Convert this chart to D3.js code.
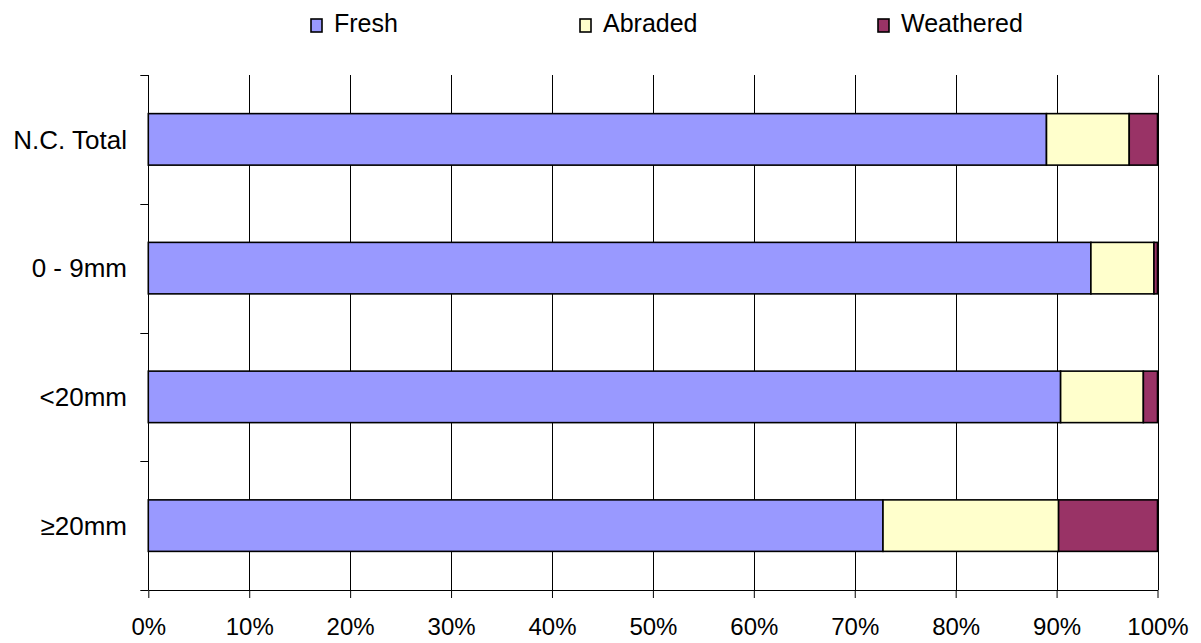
<!DOCTYPE html>
<html>
<head>
<script src="https://d3js.org/d3.v7.min.js"></script>
<style>
  body { margin: 0; background: #fff; }
  text { font-family: "Liberation Sans", Arial, sans-serif; fill: #000; }
</style>
</head>
<body>
<svg id="chart" width="1201" height="643"></svg>
<script>
// data (percent of each row)
var categories = ["N.C. Total", "0 - 9mm", "<20mm", "\u226520mm"];
var fresh     = [89.0, 93.4, 90.4, 72.8];
var abraded   = [8.2, 6.25, 8.2, 17.4];
var weathered = [2.8, 0.35, 1.4, 9.8];
var seriesNames = ["Fresh", "Abraded", "Weathered"];
var seriesColors = ["#9999FF", "#FFFFCC", "#993366"];
var xTicks = [0, 10, 20, 30, 40, 50, 60, 70, 80, 90, 100];

var rows = categories.map(function(c, i) {
  return { cat: c, Fresh: fresh[i], Abraded: abraded[i], Weathered: weathered[i] };
});

var svg = d3.select("#chart");
var margin = { left: 148.3, right: 43.5, top: 75, bottom: 53 };
var W = 1201, H = 643;

var x = d3.scaleLinear().domain([0, 100]).range([margin.left, W - margin.right]);
var y = d3.scaleBand().domain(categories)
  .range([margin.top, H - margin.bottom])
  .paddingInner(0.6).paddingOuter(0.3);

var stack = d3.stack().keys(seriesNames);
var stacked = stack(rows);
var color = d3.scaleOrdinal().domain(seriesNames).range(seriesColors);

// vertical gridlines
svg.append("g").selectAll("line.grid").data(xTicks.slice(1))
  .enter().append("line")
  .attr("class", "grid")
  .attr("x1", d => Math.round(x(d)) + 0.5).attr("x2", d => Math.round(x(d)) + 0.5)
  .attr("y1", margin.top).attr("y2", H - margin.bottom)
  .attr("stroke", "#000").attr("stroke-width", 1);

// bars
var layer = svg.append("g");
stacked.forEach(function(s) {
  layer.selectAll("rect." + s.key).data(s)
    .enter().append("rect")
    .attr("class", s.key)
    .attr("x", d => x(d[0]))
    .attr("width", d => x(d[1]) - x(d[0]))
    .attr("y", d => y(d.data.cat))
    .attr("height", y.bandwidth())
    .attr("fill", color(s.key))
    .attr("stroke", "#000")
    .attr("stroke-width", 1.6);
});

// x axis
var xAxis = d3.axisBottom(x).tickValues(xTicks).tickFormat(d => d + "%").tickSizeInner(8).tickSizeOuter(0).tickPadding(20);
var gx = svg.append("g").attr("transform", "translate(0," + (H - margin.bottom) + ")").call(xAxis);
gx.selectAll("text").style("font-size", "24px").attr("dy", "0.71em");
gx.selectAll("line, path").attr("stroke", "#000");

// y axis: ticks at band boundaries
var bounds = d3.range(categories.length + 1).map(i => margin.top + i * y.step());
var gy = svg.append("g");
gy.append("line")
  .attr("x1", Math.round(margin.left) + 0.5).attr("x2", Math.round(margin.left) + 0.5)
  .attr("y1", margin.top).attr("y2", H - margin.bottom)
  .attr("stroke", "#000");
gy.selectAll("line.tick").data(bounds).enter().append("line")
  .attr("class", "tick")
  .attr("x1", margin.left - 8).attr("x2", margin.left)
  .attr("y1", d => Math.round(d) + 0.5).attr("y2", d => Math.round(d) + 0.5)
  .attr("stroke", "#000");
gy.selectAll("text").data(categories).enter().append("text")
  .attr("x", 127)
  .attr("y", d => y(d) + y.bandwidth() / 2)
  .attr("dy", "0.36em")
  .attr("text-anchor", "end")
  .style("font-size", "26px")
  .text(d => d);

// legend
var legendX = [311, 580, 878];
var legend = svg.append("g").selectAll("g").data(seriesNames).enter().append("g")
  .attr("transform", (d, i) => "translate(" + legendX[i] + ",0)");
legend.append("rect")
  .attr("x", 0).attr("y", 19).attr("width", 11).attr("height", 13)
  .attr("fill", d => color(d)).attr("stroke", "#000").attr("stroke-width", 1.6);
legend.append("text")
  .attr("x", 23).attr("y", 32)
  .style("font-size", "25px")
  .text(d => d);
</script>
</body>
</html>
